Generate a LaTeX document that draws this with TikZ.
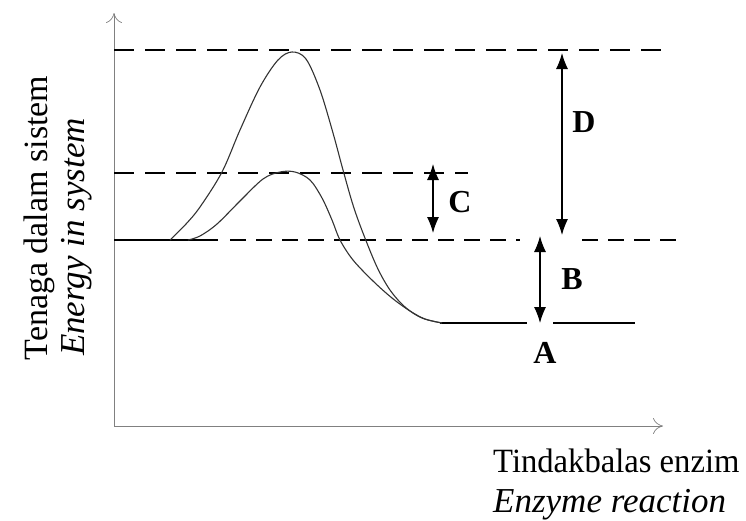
\documentclass[tikz,border=0pt]{standalone}
\usepackage{fontspec}
\setmainfont{Liberation Serif}
\usetikzlibrary{arrows.meta}
\begin{document}
\begin{tikzpicture}[x=1pt,y=-1pt,
  axis/.style={draw=black!50, line width=0.7pt, -{To[length=10pt,width=16pt,open]}},
  guide/.style={draw=black, line width=1.3pt, dash pattern=on 20pt off 11pt},
  lowguide/.style={draw=black, line width=1.3pt, dash pattern=on 16pt off 10pt},
  level/.style={draw=black, line width=1.4pt},
  curve/.style={draw=black!80, line width=1.1pt},
  gapar/.style={draw=black, line width=1.1pt, {Latex[length=16pt,width=12pt]}-{Latex[length=16pt,width=12pt]}},
  lbl/.style={font=\fontsize{32}{32}\selectfont\bfseries, inner sep=0pt},
  uptxt/.style={font=\fontsize{34}{35}\selectfont, inner sep=0pt},
  ittxt/.style={font=\fontsize{35}{36}\selectfont\itshape, inner sep=0pt}]
\useasboundingbox (0,0) rectangle (746,520);

% axes
\coordinate (O) at (114,426);
\coordinate (ytop) at (114,13);
\coordinate (xend) at (663,426);
\draw[axis] (O) -- (ytop);
\draw[axis] (O) -- (xend);

% guide lines
\coordinate (t1) at (114,50);   \coordinate (t2) at (672,50);
\coordinate (m1) at (114,173);  \coordinate (m2) at (468,173);
\coordinate (s1) at (114,240);  \coordinate (s2) at (218,240);
\coordinate (s2b) at (230,240);
\coordinate (s3) at (520,240);  \coordinate (s4) at (582,240);
\coordinate (s5) at (678,240);
\draw[guide] (t1) -- (t2);
\draw[guide] (m1) -- (m2);
\draw[level] (s1) -- (s2);
\draw[lowguide] (s2b) -- (s3);
\draw[lowguide] (s4) -- (s5);

% product level
\coordinate (p1) at (440,323); \coordinate (p2) at (527,323);
\coordinate (p3) at (553,323); \coordinate (p4) at (635,323);
\draw[level] (p1) -- (p2);
\draw[level] (p3) -- (p4);

% curves
\draw[curve] plot[smooth, tension=0.55] coordinates {(170,240) (186,224) (200,207) (222,172) (240,130) (260,87) (278,60) (292,52) (306,59) (320,90) (333,133) (343,170) (353,205) (363,233) (377,267) (390,290) (405,307) (422,318) (442,323)};
\draw[curve] plot[smooth, tension=0.55] coordinates {(188,240) (200,236) (217,224) (240,201) (263,179) (280,172) (295,172) (310,180) (322,198) (332,220) (340,240) (353,260) (373,281) (392,298) (410,311) (425,319) (442,323)};

% arrows
\coordinate (c1) at (433,164); \coordinate (c2) at (433,233);
\coordinate (d1) at (562,53);  \coordinate (d2) at (562,235);
\coordinate (b1) at (540,236); \coordinate (b2) at (540,323);
\draw[gapar] (c1) -- (c2);
\draw[gapar] (d1) -- (d2);
\draw[gapar] (b1) -- (b2);

% labels
\node[lbl] (C) at (460,202) {C};
\node[lbl] (D) at (584,122) {D};
\node[lbl] (B) at (572,279) {B};
\node[lbl] (A) at (545,353) {A};

% axis texts
\node[uptxt, rotate=90, anchor=base] (yl1) at (47,218) {Tenaga dalam sistem};
\node[ittxt, rotate=90, anchor=base] (yl2) at (84,237) {Energy in system};
\node[uptxt, anchor=base west, xscale=0.96] (xl1) at (493,472) {Tindakbalas enzim};
\node[ittxt, anchor=base west] (xl2) at (493,512) {Enzyme reaction};
\end{tikzpicture}
\end{document}
